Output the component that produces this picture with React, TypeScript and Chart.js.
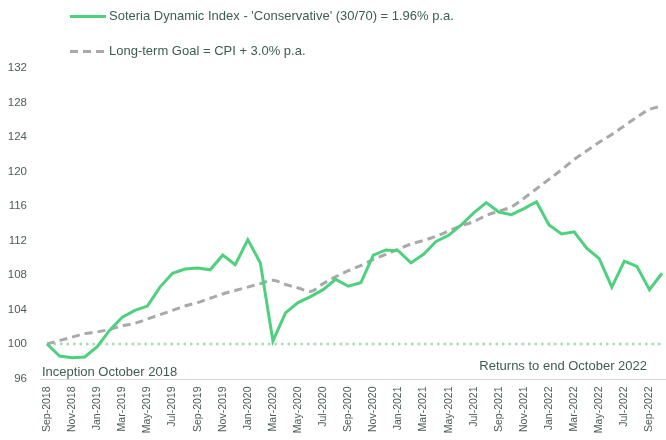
import React, { useEffect, useRef } from "react";
import { Chart, registerables } from "chart.js";

Chart.register(...registerables);

const months: string[] = [
  "Sep-2018", "Oct-2018", "Nov-2018", "Dec-2018",
  "Jan-2019", "Feb-2019", "Mar-2019", "Apr-2019", "May-2019", "Jun-2019",
  "Jul-2019", "Aug-2019", "Sep-2019", "Oct-2019", "Nov-2019", "Dec-2019",
  "Jan-2020", "Feb-2020", "Mar-2020", "Apr-2020", "May-2020", "Jun-2020",
  "Jul-2020", "Aug-2020", "Sep-2020", "Oct-2020", "Nov-2020", "Dec-2020",
  "Jan-2021", "Feb-2021", "Mar-2021", "Apr-2021", "May-2021", "Jun-2021",
  "Jul-2021", "Aug-2021", "Sep-2021", "Oct-2021", "Nov-2021", "Dec-2021",
  "Jan-2022", "Feb-2022", "Mar-2022", "Apr-2022", "May-2022", "Jun-2022",
  "Jul-2022", "Aug-2022", "Sep-2022", "Oct-2022",
];

const soteriaIndex: number[] = [
  100, 98.6, 98.4, 98.5, 99.7, 101.6, 103.1, 103.9, 104.4, 106.6,
  108.2, 108.7, 108.8, 108.6, 110.3, 109.2, 112.1, 109.4, 100.35, 103.6,
  104.8, 105.5, 106.3, 107.5, 106.7, 107.1, 110.3, 110.9, 110.8, 109.4,
  110.4, 111.9, 112.6, 113.8, 115.2, 116.4, 115.3, 115.0, 115.7, 116.5,
  113.8, 112.75, 113.0, 111.1, 109.9, 106.6, 109.6, 109.0, 106.3, 108.2,
];

const longTermGoal: number[] = [
  100, 100.4, 100.8, 101.2, 101.4, 101.7, 102.1, 102.4, 102.9, 103.4,
  103.9, 104.4, 104.8, 105.3, 105.8, 106.2, 106.6, 107.0, 107.4, 106.9,
  106.5, 106.1, 107.0, 107.8, 108.5, 109.1, 109.8, 110.4, 111.0, 111.6,
  112.0, 112.5, 113.1, 113.7, 114.2, 114.9, 115.4, 115.9, 116.9, 118.0,
  119.1, 120.2, 121.4, 122.4, 123.4, 124.3, 125.3, 126.3, 127.2, 127.6,
];

const baselineValue = 100;
const yMin = 96;
const yMax = 132;
const yStep = 4;

const legendLabels: string[] = [
  "Soteria Dynamic Index - 'Conservative' (30/70) = 1.96% p.a.",
  "Long-term Goal = CPI + 3.0% p.a.",
];
const noteLeft = "Inception October 2018";
const noteRight = "Returns to end October 2022";

const GREEN = "#4fd07f";
const GREY = "#a9a9a9";
const DOT = "#a4dab4";
const TEXT = "#3e5c53";
const TICK = "#4d5c56";
const FONT = '"Liberation Sans", Arial, sans-serif';

const decorPlugin = {
  id: "decor",
  afterDraw(chart: any) {
    const ctx = chart.ctx as CanvasRenderingContext2D;
    const area = chart.chartArea;
    ctx.save();
    // baseline axis line
    ctx.strokeStyle = "#d6d9d7";
    ctx.lineWidth = 1;
    ctx.beginPath();
    ctx.moveTo(40, Math.round(area.bottom) + 0.5);
    ctx.lineTo(chart.width, Math.round(area.bottom) + 0.5);
    ctx.stroke();

    // legend
    ctx.font = `13px ${FONT}`;
    ctx.textBaseline = "middle";
    ctx.textAlign = "left";
    ctx.lineWidth = 3;
    ctx.strokeStyle = GREEN;
    ctx.setLineDash([]);
    ctx.beginPath();
    ctx.moveTo(70, 16.5);
    ctx.lineTo(106, 16.5);
    ctx.stroke();
    ctx.fillStyle = TEXT;
    ctx.fillText(legendLabels[0], 109, 16);

    ctx.strokeStyle = GREY;
    ctx.setLineDash([8, 5]);
    ctx.beginPath();
    ctx.moveTo(70, 51.5);
    ctx.lineTo(106, 51.5);
    ctx.stroke();
    ctx.setLineDash([]);
    ctx.fillText(legendLabels[1], 109, 51);

    // notes
    ctx.textBaseline = "alphabetic";
    ctx.fillText(noteLeft, 42, 375.5);
    ctx.textAlign = "right";
    ctx.fillText(noteRight, 647, 369.5);
    ctx.restore();
  },
};

export default function App() {
  const ref = useRef<HTMLCanvasElement | null>(null);

  useEffect(() => {
    if (!ref.current) return;
    const chart = new Chart(ref.current, {
      type: "line",
      data: {
        labels: months,
        datasets: [
          {
            label: legendLabels[0],
            data: soteriaIndex,
            borderColor: GREEN,
            borderWidth: 3,
            pointRadius: 0,
            tension: 0,
            fill: false,
          },
          {
            label: legendLabels[1],
            data: longTermGoal,
            borderColor: GREY,
            borderWidth: 3,
            borderDash: [8, 5],
            pointRadius: 0,
            cubicInterpolationMode: "monotone",
            fill: false,
          },
          {
            label: "baseline",
            data: months.map(() => baselineValue),
            borderColor: DOT,
            borderWidth: 2.5,
            borderDash: [2.5, 4],
            pointRadius: 0,
            fill: false,
          },
        ],
      },
      options: {
        animation: false,
        responsive: false,
        layout: { padding: { top: 68, right: 4, left: 0, bottom: 0 } },
        plugins: {
          legend: { display: false },
          tooltip: { enabled: false },
        },
        scales: {
          x: {
            offset: false,
            grid: { display: false, drawTicks: false },
            border: { display: false },
            ticks: {
              autoSkip: false,
              minRotation: 90,
              maxRotation: 90,
              padding: 8,
              color: TICK,
              font: { family: FONT, size: 10.5 },
              callback: (_v: any, i: number) => (i % 2 === 0 ? months[i] : ""),
            },
            afterFit: (scale: any) => {
              scale.height = 61.5;
              scale.paddingLeft = 0;
              scale.paddingRight = 0;
            },
          },
          y: {
            min: yMin,
            max: yMax,
            grid: { display: false, drawTicks: false },
            border: { display: false },
            ticks: {
              stepSize: yStep,
              padding: 20,
              color: TICK,
              font: { family: FONT, size: 11.5 },
            },
            afterFit: (scale: any) => {
              scale.width = 47;
            },
          },
        },
      },
      plugins: [decorPlugin],
    });
    return () => chart.destroy();
  }, []);

  return (
    <div style={{ position: "fixed", left: 0, top: 0, width: 666, height: 440, background: "#fff" }}>
      <canvas ref={ref} width={666} height={440} style={{ display: "block" }} />
    </div>
  );
}
